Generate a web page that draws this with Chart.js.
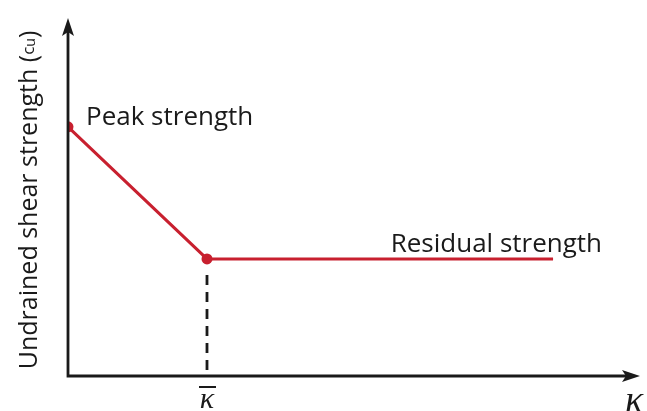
<!DOCTYPE html>
<html lang="en">
<head>
    <meta charset="UTF-8">
    <title>Undrained shear strength vs kappa</title>
    <script src="https://cdn.jsdelivr.net/npm/chart.js"></script>
    <style>
        body { margin: 0; background: #ffffff; }
        #wrap { width: 647px; height: 411px; }
    </style>
</head>
<body>
    <div id="wrap"><canvas id="chart" width="647" height="411"></canvas></div>
    <script>
        // strength curve: peak -> kappa-bar -> residual plateau
        const kappaValues = [0, 2.43, 8.48];
        const strengthValues = [6.96, 3.27, 3.27];
        const kappaBar = 2.43;
        const pointLabels = ['Peak strength', '', 'Residual strength'];
        const yTitle = 'Undrained shear strength';
        const xTitle = 'κ';

        const red = '#c8202f';
        const ink = '#1a1a1a';
        const font = '"Open Sans", sans-serif';

        const curve = kappaValues.map((k, i) => ({ x: k, y: strengthValues[i] }));

        const annotate = {
            id: 'annotate',
            afterDraw(chart) {
                const { ctx, chartArea: a, scales: { x, y } } = chart;
                ctx.save();
                // axes with arrow heads
                ctx.strokeStyle = ink;
                ctx.fillStyle = ink;
                ctx.lineWidth = 2.8;
                const x0 = x.getPixelForValue(0), y0 = y.getPixelForValue(0);
                ctx.beginPath();
                ctx.moveTo(x0, y0);
                ctx.lineTo(x0, a.top + 10);
                ctx.moveTo(x0 - 1.4, y0);
                ctx.lineTo(a.right - 10, y0);
                ctx.stroke();
                ctx.beginPath();
                ctx.moveTo(x0, a.top);
                ctx.lineTo(x0 - 6, a.top + 18);
                ctx.lineTo(x0, a.top + 14);
                ctx.lineTo(x0 + 6, a.top + 18);
                ctx.closePath();
                ctx.fill();
                ctx.beginPath();
                ctx.moveTo(a.right, y0);
                ctx.lineTo(a.right - 18, y0 - 6);
                ctx.lineTo(a.right - 14, y0);
                ctx.lineTo(a.right - 18, y0 + 6);
                ctx.closePath();
                ctx.fill();

                // point labels
                ctx.font = '26px ' + font;
                ctx.textBaseline = 'alphabetic';
                const p0x = x.getPixelForValue(kappaValues[0]), p0y = y.getPixelForValue(strengthValues[0]);
                ctx.textAlign = 'left';
                ctx.fillText(pointLabels[0], p0x + 18, p0y - 2);
                const p2x = x.getPixelForValue(kappaValues[2]), p2y = y.getPixelForValue(strengthValues[2]);
                ctx.textAlign = 'right';
                ctx.fillText(pointLabels[2], p2x + 49, p2y - 7);

                // kappa labels
                ctx.font = 'italic 30px "Liberation Serif", serif';
                ctx.textAlign = 'center';
                const kb = x.getPixelForValue(kappaBar);
                ctx.fillText(xTitle, kb, y0 + 32);
                ctx.lineWidth = 2;
                ctx.beginPath();
                ctx.moveTo(kb - 8, y0 + 11);
                ctx.lineTo(kb + 9, y0 + 11);
                ctx.stroke();
                ctx.font = 'italic 38px "Liberation Serif", serif';
                ctx.fillText(xTitle, a.right - 6, y0 + 36);

                // y axis title, rotated
                ctx.translate(28, (a.top + y0) / 2 + 3);
                ctx.rotate(-Math.PI / 2);
                ctx.textAlign = 'left';
                ctx.font = '25px ' + font;
                const w1 = ctx.measureText(yTitle + ' (').width;
                ctx.font = '17px ' + font;
                const w2 = ctx.measureText('c').width;
                ctx.font = '14px ' + font;
                const w3 = ctx.measureText('u').width;
                ctx.font = '25px ' + font;
                const w4 = ctx.measureText(')').width;
                let cx = -(w1 + w2 + w3 + w4) / 2;
                ctx.fillText(yTitle + ' (', cx, 9);
                cx += w1;
                ctx.font = '17px ' + font;
                ctx.fillText('c', cx, 6);
                cx += w2;
                ctx.font = '14px ' + font;
                ctx.fillText('u', cx, 7);
                cx += w3;
                ctx.font = '25px ' + font;
                ctx.fillText(')', cx, 9);
                ctx.restore();
            }
        };

        new Chart(document.getElementById('chart'), {
            type: 'scatter',
            data: {
                datasets: [{
                    data: curve,
                    showLine: true,
                    borderColor: red,
                    backgroundColor: red,
                    borderWidth: 3,
                    pointRadius: [5.5, 5.5, 0],
                    pointBorderWidth: 0
                }, {
                    data: [{ x: kappaBar, y: strengthValues[1] - 0.45 }, { x: kappaBar, y: 0 }],
                    showLine: true,
                    borderColor: ink,
                    borderWidth: 2.8,
                    borderDash: [10, 7],
                    pointRadius: 0
                }]
            },
            options: {
                responsive: false,
                animation: false,
                layout: { padding: { left: 68, right: 7, top: 18, bottom: 35 } },
                plugins: { legend: { display: false }, tooltip: { enabled: false } },
                scales: {
                    x: { type: 'linear', min: 0, max: 10, display: false },
                    y: { type: 'linear', min: 0, max: 10, display: false }
                }
            },
            plugins: [annotate]
        });
    </script>
</body>
</html>
